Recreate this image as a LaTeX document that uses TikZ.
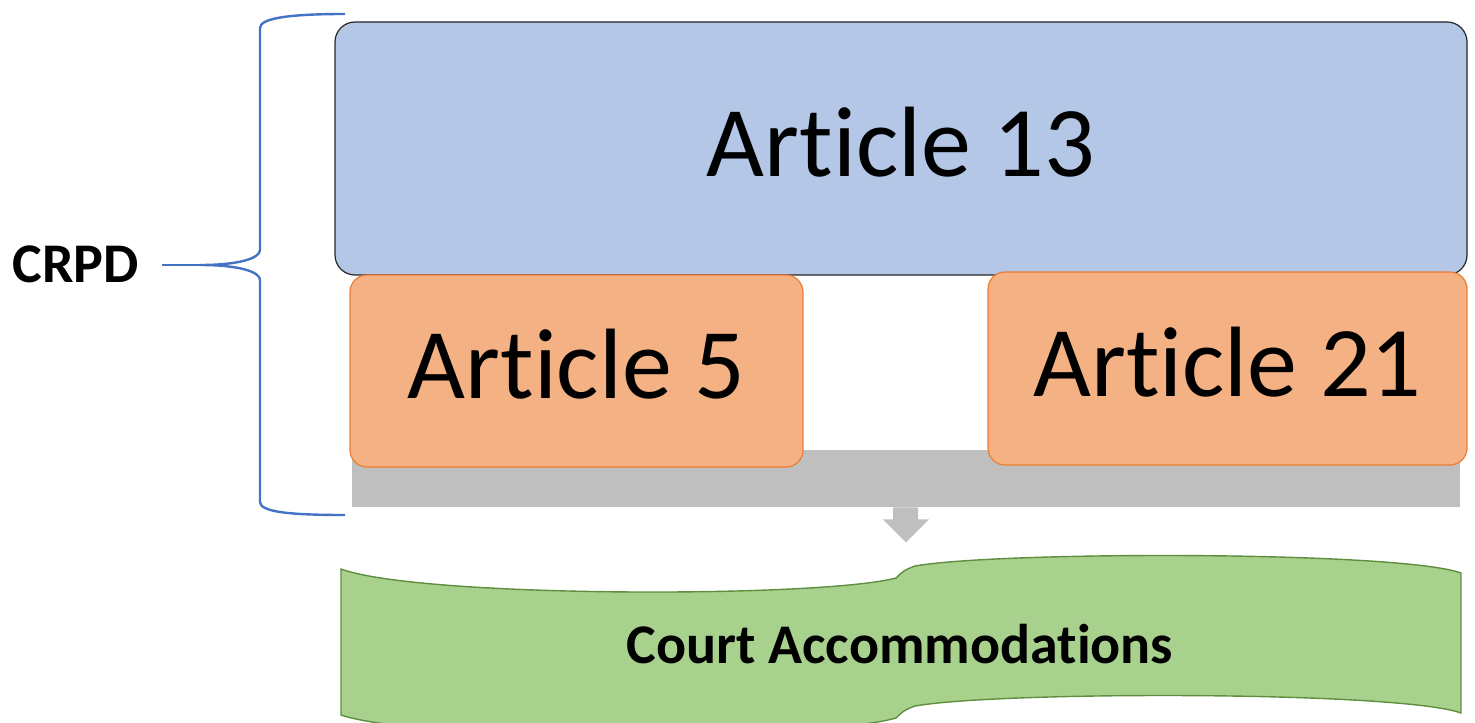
\documentclass[tikz,border=0pt]{standalone}
\usepackage{fontspec}
\setmainfont{Carlito}[Ligatures={NoCommon}]
\definecolor{bluefill}{HTML}{B4C7E7}
\definecolor{orangefill}{HTML}{F4B183}
\definecolor{orangeline}{HTML}{ED7D31}
\definecolor{barcol}{HTML}{BFBFBF}
\definecolor{greenfill}{HTML}{A9D18E}
\definecolor{greenline}{HTML}{5E8F3E}
\definecolor{bracecol}{HTML}{4472C4}
\begin{document}
\begin{tikzpicture}[x=0.5pt,y=-0.5pt,
  bluebox/.style={draw=black!85,line width=0.6pt,fill=bluefill,rounded corners=10pt,inner sep=0pt},
  orangebox/.style={draw=orangeline,line width=0.6pt,fill=orangefill,rounded corners=8.5pt,inner sep=0pt},
  bigtext/.style={anchor=base,inner sep=0pt,font=\fontsize{50}{60}\selectfont},
  bracestyle/.style={draw=bracecol,line width=1.2pt},
  wavestyle/.style={draw=greenline,line width=0.7pt,fill=greenfill}]
\useasboundingbox (0,0) rectangle (1475,722);
\clip (0,0) rectangle (1475,722);
% gray connector bar
\node[fill=barcol,inner sep=0pt,minimum width=554pt,minimum height=28.5pt] (bar) at (906,478.5) {};
% boxes
\node[bluebox,minimum width=566pt,minimum height=126.5pt] (a13) at (901,148.5) {};
\node[orangebox,minimum width=226.5pt,minimum height=96pt] (a5) at (576.5,371) {};
\node[orangebox,minimum width=239.5pt,minimum height=96.5pt] (a21) at (1227.5,368.5) {};
\node[bigtext] (a13t) at ([yshift=-14.2pt]a13.center) {Article 13};
\node[bigtext] (a5t) at ([yshift=-13.6pt]a5.center) {Article 5};
\node[bigtext] (a21t) at ([yshift=-14.2pt]a21.center) {Article 21};
% arrow from bar
\fill[barcol] (bar.south) ++(-13,0) -- ++(25,0) -- ++(0,12) -- ++(11,0) -- ++(-23,23) -- ++(-23,-23) -- ++(10,0) -- cycle;
% green double wave
\path[wavestyle] (341,569) .. controls (420,598) and (820,598) .. (896,578)
  .. controls (902,572) and (904,570) .. (915,566)
  .. controls (1000,551) and (1400,551) .. (1461,573)
  -- (1461,713)
  .. controls (1400,691) and (1000,691) .. (915,706)
  .. controls (904,710) and (902,712) .. (896,718)
  .. controls (820,740) and (420,742) .. (341,715) -- cycle;
\node[anchor=base,inner sep=0pt,font=\bfseries\fontsize{28}{33}\selectfont] (court) at (900,663) {Court Accommodations};
% CRPD and brace
\node[anchor=base west,inner sep=0pt,font=\bfseries\fontsize{28}{33}\selectfont] (crpd) at (12,282) {CRPD};
\coordinate (tip) at (200,265);
\draw[bracestyle] (162,265) -- (tip);
\draw[bracestyle] (345,14) .. controls (290,14) and (260,18) .. (260,28) -- (260,250)
  .. controls (260,258) and (240,265) .. (tip)
  .. controls (240,265) and (260,272) .. (260,280) -- (260,502)
  .. controls (260,512) and (290,515) .. (345,515);
\end{tikzpicture}
\end{document}
